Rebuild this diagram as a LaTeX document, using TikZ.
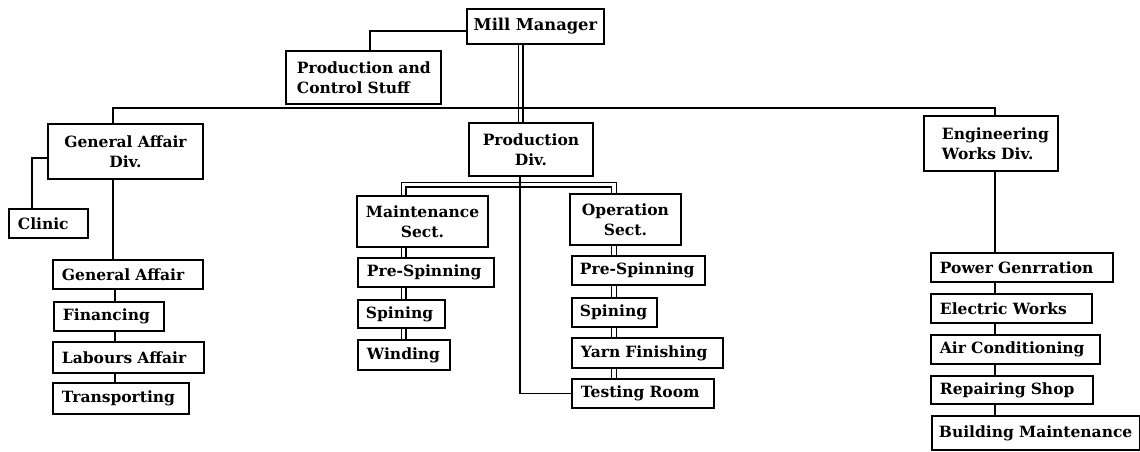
\documentclass[tikz,border=0pt]{standalone}
\usepackage{fontspec}
\setmainfont{DejaVu Serif}
\begin{document}
\begin{tikzpicture}[x=1pt,y=-1pt,
  bx/.style={draw, line width=1.9pt, anchor=north west, inner xsep=9pt, inner ysep=0pt,
    align=left, font=\bfseries\fontsize{15.5}{20}\selectfont},
  bxc/.style={bx, align=center},
  ln/.style={line width=1.5pt},
  dbl/.style={line width=1.3pt, double, double distance=3.4pt}]
\fill[white] (0,0) rectangle (1140,451);
\useasboundingbox (0,0) rectangle (1140,451);
% column coordinates
\coordinate (cmm) at (520.5,0);
\coordinate (busy) at (0,108);
\coordinate (gx) at (113,0);
\coordinate (gx2) at (115,0);
\coordinate (cx) at (32,0);
\coordinate (pcx) at (370,0);
\coordinate (mL) at (403.5,0);
\coordinate (mR) at (614,0);
\coordinate (brk) at (0,184.5);
\coordinate (pc) at (520,0);
\coordinate (ex) at (995,0);
% boxes
\node[bxc, inner xsep=2pt, text width=133, minimum height=35, font=\bfseries\fontsize{16.3}{20}\selectfont] (mm) at (466,8) {Mill~Manager};
\node[bx, inner xsep=11pt, text width=133, minimum height=53] (pcs) at (285,50) {Production~and\\Control~Stuff};
\node[bxc, text width=137, minimum height=55] (gad) at (47,123) {General~Affair\\Div.};
\node[bx, text width=61, minimum height=29] (clinic) at (8,208) {Clinic};
\node[bx, text width=132, minimum height=29] (ga) at (52,259) {General~Affair};
\node[bx, text width=92, minimum height=29] (fin) at (53,301) {Financing};
\node[bx, text width=133, minimum height=31] (lab) at (52,341) {Labours~Affair};
\node[bx, text width=118, minimum height=31] (trans) at (52,382) {Transporting};
\node[bxc, text width=106, minimum height=53] (pd) at (468,122) {Production\\Div.};
\node[bxc, text width=113, minimum height=51] (ms) at (356,195) {Maintenance\\Sect.};
\node[bxc, text width=93, minimum height=51] (os) at (569,193) {Operation\\Sect.};
\node[bx, text width=118, minimum height=29] (mps) at (357,257) {Pre-Spinning};
\node[bx, inner xsep=8pt, text width=71, minimum height=28] (msp) at (357,299) {Spining};
\node[bx, text width=74, minimum height=30] (mwi) at (357,339) {Winding};
\node[bx, inner xsep=8pt, text width=117, minimum height=29] (ops) at (571,255) {Pre-Spinning};
\node[bx, inner xsep=8pt, text width=69, minimum height=29] (osp) at (571,297) {Spining};
\node[bx, text width=133, minimum height=30] (oyf) at (571,337) {Yarn~Finishing};
\node[bx, text width=124, minimum height=29] (otr) at (571,378) {Testing~Room};
\node[bx, inner xsep=18pt, text width=98, minimum height=55] (ewd) at (923,115) {Engineering\\Works~Div.};
\node[bx, text width=164, minimum height=29] (pg) at (930,252) {Power~Genrration};
\node[bx, text width=143, minimum height=29] (ew) at (930,293) {Electric~Works};
\node[bx, text width=151, minimum height=29] (ac) at (930,334) {Air~Conditioning};
\node[bx, text width=144, minimum height=28] (rs) at (930,375) {Repairing~Shop};
\node[bx, inner xsep=7pt, text width=194, minimum height=34] (bm) at (931,415) {Building~Maintenance};
% connectors
\draw[ln] ([yshift=-4.5pt]mm.west) -| (pcs.north -| pcx);
\draw[dbl] (mm.south -| cmm) -- (pd.north -| cmm);
\draw[ln] (gad.north -| gx) -- (gx |- busy) -- (ex |- busy) -- (ewd.north -| ex);
\draw[ln] ([yshift=-6.5pt]gad.west) -| (clinic.north -| cx);
\draw[ln] (gad.south -| gx) -- (ga.north -| gx);
\draw[ln] (ga.south -| gx2) -- (fin.north -| gx2);
\draw[ln] (fin.south -| gx2) -- (lab.north -| gx2);
\draw[ln] (lab.south -| gx2) -- (trans.north -| gx2);
\draw[dbl] (ms.north -| mL) -- (mL |- brk) -- (mR |- brk) -- (os.north -| mR);
\draw[ln] (pd.south -| pc) |- (otr.west);
\draw[dbl] (ms.south -| mL) -- (mps.north -| mL);
\draw[dbl] (mps.south -| mL) -- (msp.north -| mL);
\draw[dbl] (msp.south -| mL) -- (mwi.north -| mL);
\draw[dbl] (os.south -| mR) -- (ops.north -| mR);
\draw[dbl] (ops.south -| mR) -- (osp.north -| mR);
\draw[dbl] (osp.south -| mR) -- (oyf.north -| mR);
\draw[dbl] (oyf.south -| mR) -- (otr.north -| mR);
\draw[ln] (ewd.south -| ex) -- (pg.north -| ex);
\draw[ln] (pg.south -| ex) -- (ew.north -| ex);
\draw[ln] (ew.south -| ex) -- (ac.north -| ex);
\draw[ln] (ac.south -| ex) -- (rs.north -| ex);
\draw[ln] (rs.south -| ex) -- (bm.north -| ex);
\end{tikzpicture}
\end{document}
